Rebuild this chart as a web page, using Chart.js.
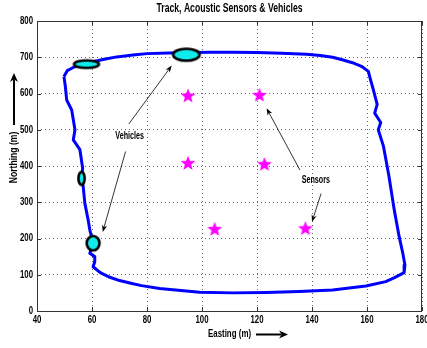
<!DOCTYPE html>
<html>
<head>
<meta charset="utf-8">
<script src="https://cdn.jsdelivr.net/npm/chart.js@4.4.1/dist/chart.umd.min.js"></script>
<style>
  html, body { margin: 0; padding: 0; background: #fff; }
</style>
</head>
<body>
<canvas id="trackChart" width="427" height="348"></canvas>
<script>
const xTicks = [40, 60, 80, 100, 120, 140, 160, 180];
const yTicks = [0, 100, 200, 300, 400, 500, 600, 700, 800];

// track loop, clockwise from the top-left corner (m)
const trackEasting = [49.8, 51, 53.5, 56, 60, 64, 69, 74.9, 80, 88, 95, 103, 111, 120, 129, 138, 143, 147.5, 151, 154.7, 158, 160.5,
  161.2, 162, 163.7, 162.8, 165, 164.1, 166, 168, 169.9, 171.7, 173, 173.8, 173.5, 170, 166.8, 159.6, 147.5, 135.4, 123.3, 111.2,
  99.1, 94.3, 84.6, 78, 74.9, 70, 66.5, 63, 60.4, 61, 61, 59.2, 60.4, 59.2, 58.6, 57.4, 56.8, 56.2, 56.6, 55.6, 53.2, 53.8,
  52.6, 50.8, 50.3, 49.8];
const trackNorthing = [647, 663, 673, 680, 687, 694, 701, 706, 710, 712, 713, 714, 714, 713, 711, 708, 705, 700, 693, 685, 675, 661,
  640, 619, 570, 546, 520, 500, 454, 371, 279, 205, 160, 127, 106, 92, 81, 69, 58, 54, 51, 50,
  52, 55, 62, 70, 75, 84, 93, 106, 122, 136, 150, 159, 187, 224, 251, 297, 343, 366, 394, 445, 472, 500,
  555, 582, 620, 647];

const sensorEasting = [94.9, 120.9, 94.9, 122.7, 104.6, 137.6];
const sensorNorthing = [594, 596, 408, 405, 226, 228];

const vehicleEasting = [58, 94.3, 56.2, 60.4];
const vehicleNorthing = [681, 707, 366, 187];
const vehicleSpanE = [10, 10.6, 3.2, 5.6];
const vehicleSpanN = [28, 40, 43, 47];

const FONT = "'Liberation Sans', Arial, sans-serif";

function ellipseStyle(ctx) {
  const i = ctx.dataIndex;
  const sx = ctx.chart.scales.x, sy = ctx.chart.scales.y;
  const w = Math.abs(sx.getPixelForValue(vehicleEasting[i] + vehicleSpanE[i] / 2) - sx.getPixelForValue(vehicleEasting[i] - vehicleSpanE[i] / 2));
  const h = Math.abs(sy.getPixelForValue(vehicleNorthing[i] + vehicleSpanN[i] / 2) - sy.getPixelForValue(vehicleNorthing[i] - vehicleSpanN[i] / 2));
  const c = document.createElement("canvas");
  c.width = Math.ceil(w) + 2;
  c.height = Math.ceil(h) + 2;
  const g = c.getContext("2d");
  g.beginPath();
  g.ellipse(c.width / 2, c.height / 2, Math.max(w / 2 - 1.3, 1), Math.max(h / 2 - 1.3, 1), 0, 0, Math.PI * 2);
  g.fillStyle = "#10ecec";
  g.fill();
  g.lineWidth = 2.6;
  g.strokeStyle = "#000";
  g.stroke();
  return c;
}

function starCanvas() {
  const c = document.createElement("canvas");
  c.width = 18; c.height = 18;
  const g = c.getContext("2d");
  g.beginPath();
  for (let k = 0; k < 10; k++) {
    const r = k % 2 === 0 ? 7.8 : 3.3;
    const a = -Math.PI / 2 + k * Math.PI / 5;
    const px = 9 + r * Math.cos(a), py = 9.5 + r * Math.sin(a);
    k === 0 ? g.moveTo(px, py) : g.lineTo(px, py);
  }
  g.closePath();
  g.fillStyle = "#ff00ff";
  g.fill();
  return c;
}
const star = starCanvas();

function arrow(g, x1, y1, x2, y2, head, width, lw) {
  const a = Math.atan2(y2 - y1, x2 - x1);
  const c = Math.cos(a), s = Math.sin(a);
  g.save();
  g.strokeStyle = "#000";
  g.fillStyle = "#000";
  g.lineWidth = lw;
  g.beginPath();
  g.moveTo(x1, y1);
  g.lineTo(x2 - c * head * 0.7, y2 - s * head * 0.7);
  g.stroke();
  g.beginPath();
  g.moveTo(x2, y2);
  g.lineTo(x2 - head * c + width * s, y2 - head * s - width * c);
  g.lineTo(x2 - head * 0.7 * c, y2 - head * 0.7 * s);
  g.lineTo(x2 - head * c - width * s, y2 - head * s + width * c);
  g.closePath();
  g.fill();
  g.restore();
}

// text squeezed to the narrow look of the original figure
function narrowText(g, text, x, y, size, squeeze, align) {
  g.save();
  g.font = "bold " + size + "px " + FONT;
  g.textAlign = align || "center";
  g.textBaseline = "middle";
  g.translate(x, y);
  g.scale(squeeze, 1);
  g.fillText(text, 0, 0);
  g.restore();
}

const decorations = {
  id: "decorations",
  afterDraw(chart) {
    const g = chart.ctx;
    const { left, right, top, bottom } = chart.chartArea;
    const sx = chart.scales.x, sy = chart.scales.y;
    g.save();
    // axes box and inward ticks
    g.strokeStyle = "#333";
    g.lineWidth = 1;
    g.strokeRect(left + 0.5, top + 0.5, right - left - 1, bottom - top);
    g.beginPath();
    sx.ticks.forEach(t => {
      const px = Math.round(sx.getPixelForValue(t.value)) + 0.5;
      g.moveTo(px, bottom); g.lineTo(px, bottom - 4);
      g.moveTo(px, top); g.lineTo(px, top + 4);
    });
    sy.ticks.forEach(t => {
      const py = Math.round(sy.getPixelForValue(t.value)) + 0.5;
      g.moveTo(left, py); g.lineTo(left + 4, py);
      g.moveTo(right, py); g.lineTo(right - 4, py);
    });
    g.stroke();

    g.fillStyle = "#000";
    // tick labels
    sx.ticks.forEach(t => narrowText(g, String(t.value), sx.getPixelForValue(t.value), 320.5, 10, 0.78));
    sy.ticks.forEach(t => narrowText(g, String(t.value), left - 4, sy.getPixelForValue(t.value), 10, 0.78, "right"));

    narrowText(g, "Track, Acoustic Sensors & Vehicles", (left + right) / 2, 8.5, 12, 0.72);
    narrowText(g, "Easting (m)", 229.5, 334, 11, 0.72);
    arrow(g, 256, 334.5, 288, 334.5, 9, 4, 2);

    g.save();
    g.translate(14, 157.5);
    g.rotate(-Math.PI / 2);
    narrowText(g, "Northing (m)", 0, 0, 11, 0.78);
    g.restore();
    arrow(g, 14, 125, 14, 73, 9, 4, 2);

    // annotations, placed in data units
    const P = (e, n) => [sx.getPixelForValue(e), sy.getPixelForValue(n)];
    narrowText(g, "Vehicles", ...P(73.7, 483), 10, 0.72);
    narrowText(g, "Sensors", ...P(141.4, 360), 10, 0.72);
    arrow(g, ...P(73.4, 516), ...P(89, 677), 7, 2.6, 0.8);
    arrow(g, ...P(72.2, 440), ...P(63.9, 218), 7, 2.6, 0.8);
    arrow(g, ...P(135.6, 389), ...P(123.5, 559), 7, 2.6, 0.8);
    arrow(g, ...P(143.3, 324), ...P(140, 246), 7, 2.6, 0.8);
    g.restore();
  }
};

new Chart(document.getElementById("trackChart"), {
  type: "scatter",
  data: {
    datasets: [
      {
        label: "Sensors",
        data: sensorEasting.map((e, i) => ({ x: e, y: sensorNorthing[i] })),
        pointStyle: star,
        order: 1
      },
      {
        label: "Vehicles",
        data: vehicleEasting.map((e, i) => ({ x: e, y: vehicleNorthing[i] })),
        pointStyle: ellipseStyle,
        order: 2
      },
      {
        label: "Track",
        data: trackEasting.map((e, i) => ({ x: e, y: trackNorthing[i] })),
        showLine: true,
        borderColor: "#0000ff",
        borderWidth: 3,
        pointRadius: 0,
        tension: 0,
        borderJoinStyle: "round",
        order: 3
      }
    ]
  },
  options: {
    responsive: false,
    animation: false,
    devicePixelRatio: 1,
    layout: { padding: { top: 21, right: 5, left: 0, bottom: 0 } },
    plugins: { legend: { display: false }, tooltip: { enabled: false } },
    scales: {
      x: {
        type: "linear", min: 40, max: 180,
        afterBuildTicks: s => { s.ticks = xTicks.map(v => ({ value: v })); },
        afterFit: s => { s.height = 37; },
        grid: { color: "#666", lineWidth: 1, drawTicks: false },
        border: { display: false, dash: [1, 3] },
        ticks: { display: false }
      },
      y: {
        type: "linear", min: 0, max: 800,
        afterBuildTicks: s => { s.ticks = yTicks.map(v => ({ value: v })); },
        afterFit: s => { s.width = 37; },
        grid: { color: "#666", lineWidth: 1, drawTicks: false },
        border: { display: false, dash: [1, 3] },
        ticks: { display: false }
      }
    }
  },
  plugins: [decorations]
});
</script>
</body>
</html>
